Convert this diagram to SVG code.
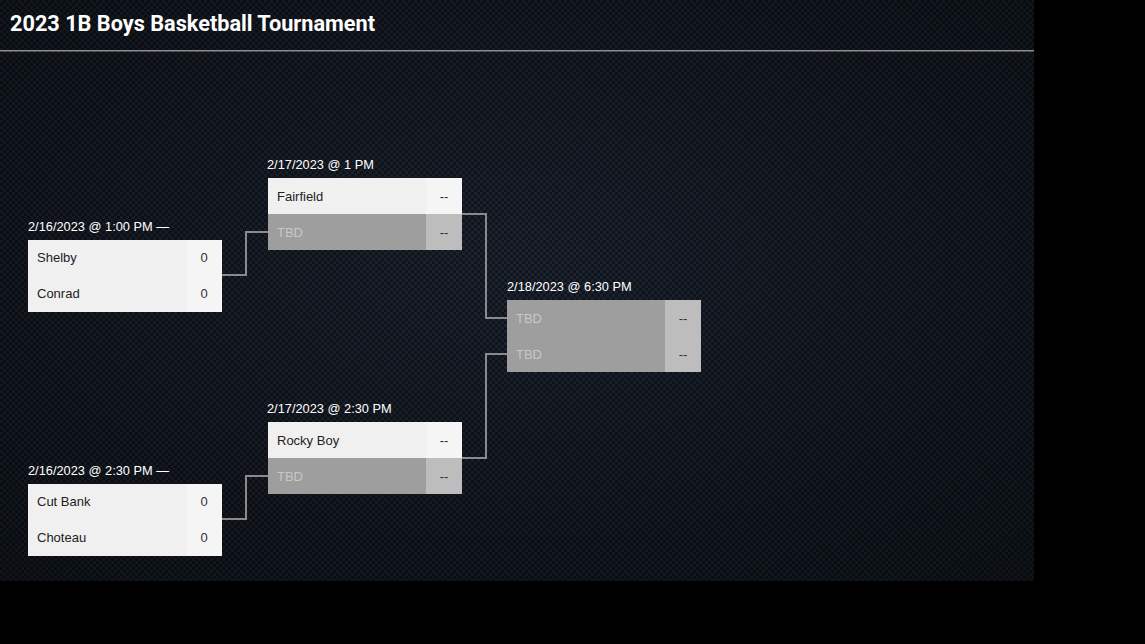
<svg xmlns="http://www.w3.org/2000/svg" width="1145" height="644" viewBox="0 0 1145 644">
<defs>
<pattern id="carbon" width="6" height="6" patternUnits="userSpaceOnUse">
<rect width="6" height="6" fill="#10151d"/>
<rect x="0" y="0" width="3" height="3" fill="#1d2430"/>
<rect x="3" y="3" width="3" height="3" fill="#1d2430"/>
</pattern>
<radialGradient id="vig" cx="0.5" cy="0.45" r="0.7">
<stop offset="0" stop-color="#000" stop-opacity="0"/>
<stop offset="1" stop-color="#000" stop-opacity="0.45"/>
</radialGradient>
<style>
.title{font-family:Roboto,"Liberation Sans",sans-serif;font-weight:700;font-size:21.7px;fill:#ffffff}
.hdr{font-family:"Liberation Sans",Arial,sans-serif;font-size:12.8px;fill:#ffffff}
.team{font-family:"Liberation Sans",Arial,sans-serif;font-size:13px;fill:#222222}
.tbd{font-family:"Liberation Sans",Arial,sans-serif;font-size:13px;fill:#c8c8c8}
.score{font-family:"Liberation Sans",Arial,sans-serif;font-size:13px;fill:#333333;text-anchor:middle}
.row{fill:#f0f0f0}
.sc{fill:#f5f5f5}
.grow{fill:#9e9e9e}
.gsc{fill:#bdbdbd}
.conn{fill:none;stroke:#8a8a8a;stroke-width:2}
</style>
</defs>
<rect width="1145" height="644" fill="#000"/>
<rect width="1034" height="581" fill="url(#carbon)"/>
<rect width="1034" height="581" fill="url(#vig)"/>
<text class="title" x="10" y="31">2023 1B Boys Basketball Tournament</text>
<rect x="0" y="50" width="1034" height="1.5" fill="#8c8c8c"/>
<g id="connectors">
<path class="conn" d="M222,275 H246 V232 H268"/>
<path class="conn" d="M222,519 H246 V476 H268"/>
<path class="conn" d="M462,214 H486 V318 H507"/>
<path class="conn" d="M462,458 H486 V354 H507"/>
</g>
<g id="m1">
<text class="hdr" x="28" y="231">2/16/2023 @ 1:00 PM —</text>
<rect class="row" x="28" y="240" width="194" height="72"/>
<rect class="sc" x="186" y="240" width="36" height="72"/>
<text class="team" x="37" y="262">Shelby</text>
<text class="score" x="204" y="262">0</text>
<text class="team" x="37" y="298">Conrad</text>
<text class="score" x="204" y="298">0</text>
</g>
<g id="m2">
<text class="hdr" x="28" y="475">2/16/2023 @ 2:30 PM —</text>
<rect class="row" x="28" y="484" width="194" height="72"/>
<rect class="sc" x="186" y="484" width="36" height="72"/>
<text class="team" x="37" y="506">Cut Bank</text>
<text class="score" x="204" y="506">0</text>
<text class="team" x="37" y="542">Choteau</text>
<text class="score" x="204" y="542">0</text>
</g>
<g id="m3">
<text class="hdr" x="267" y="169">2/17/2023 @ 1 PM</text>
<rect class="row" x="268" y="178" width="194" height="36"/>
<rect class="sc" x="426" y="178" width="36" height="36"/>
<rect class="grow" x="268" y="214" width="194" height="36"/>
<rect class="gsc" x="426" y="214" width="36" height="36"/>
<text class="team" x="277" y="201">Fairfield</text>
<text class="score" x="444" y="201">--</text>
<text class="tbd" x="277" y="237">TBD</text>
<text class="score" x="444" y="237">--</text>
</g>
<g id="m4">
<text class="hdr" x="267" y="413">2/17/2023 @ 2:30 PM</text>
<rect class="row" x="268" y="422" width="194" height="36"/>
<rect class="sc" x="426" y="422" width="36" height="36"/>
<rect class="grow" x="268" y="458" width="194" height="36"/>
<rect class="gsc" x="426" y="458" width="36" height="36"/>
<text class="team" x="277" y="445">Rocky Boy</text>
<text class="score" x="444" y="445">--</text>
<text class="tbd" x="277" y="481">TBD</text>
<text class="score" x="444" y="481">--</text>
</g>
<g id="m5">
<text class="hdr" x="507" y="291">2/18/2023 @ 6:30 PM</text>
<rect class="grow" x="507" y="300" width="194" height="72"/>
<rect class="gsc" x="665" y="300" width="36" height="72"/>
<text class="tbd" x="516" y="323">TBD</text>
<text class="score" x="683" y="323">--</text>
<text class="tbd" x="516" y="359">TBD</text>
<text class="score" x="683" y="359">--</text>
</g>
</svg>
